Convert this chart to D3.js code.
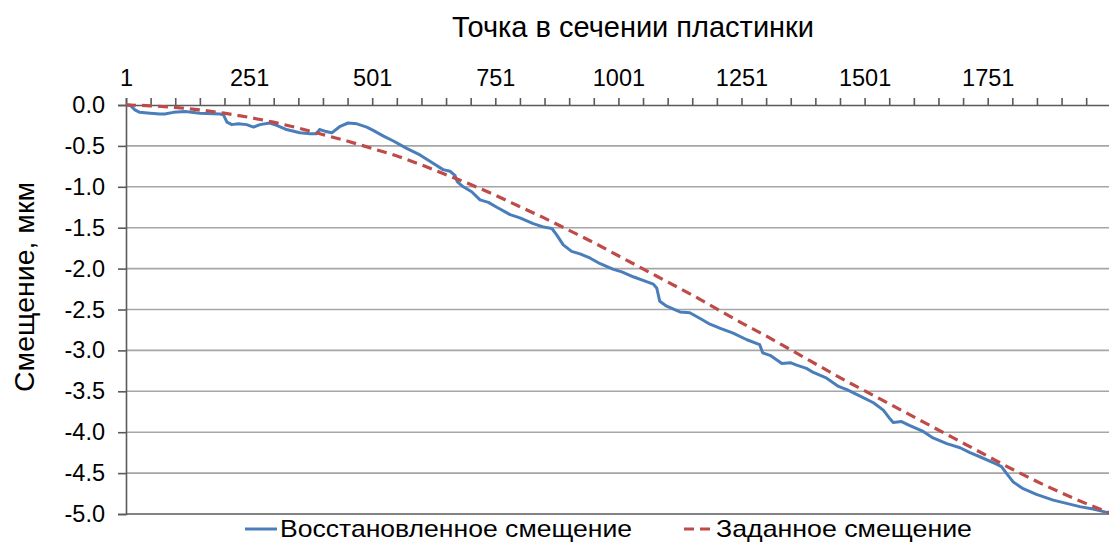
<!DOCTYPE html>
<html><head><meta charset="utf-8">
<script src="https://cdn.jsdelivr.net/npm/d3@7"></script>
<style>
html,body{margin:0;padding:0;background:#fff;}
svg{display:block;font-family:"Liberation Sans",Arial,sans-serif;}
</style></head>
<body>
<svg id="chart" width="1109" height="543"></svg>
<script>
// ---- data ----
const chartTitle = "Точка в сечении пластинки";
const yTitle = "Смещение, мкм";
const seriesNames = ["Восстановленное смещение", "Заданное смещение"];
const xTickLabels = [1, 251, 501, 751, 1001, 1251, 1501, 1751];
const yTicks = [0, -0.5, -1, -1.5, -2, -2.5, -3, -3.5, -4, -4.5, -5];

const restoredIdx = [1, 9, 19, 29, 50, 70, 80, 97, 121, 134, 151, 192, 199, 206, 216, 229, 246, 260, 273, 293, 307, 327, 354, 375, 388, 394, 405, 419, 436, 452, 470, 490, 503, 524, 544, 571, 598, 619, 645, 659, 669, 674, 686, 703, 720, 737, 754, 781, 801, 828, 848, 866, 876, 889, 906, 923, 943, 964, 991, 1008, 1031, 1058, 1072, 1079, 1085, 1099, 1126, 1146, 1167, 1187, 1208, 1234, 1262, 1288, 1294, 1309, 1333, 1350, 1363, 1383, 1397, 1424, 1448, 1465, 1492, 1519, 1539, 1553, 1559, 1576, 1593, 1620, 1640, 1668, 1695, 1715, 1735, 1769, 1779, 1790, 1803, 1823, 1850, 1884, 1911, 1938, 1965, 1993, 2000];
const restoredVal = [0, 0.00, -0.06, -0.09, -0.10, -0.11, -0.11, -0.09, -0.08, -0.09, -0.10, -0.11, -0.12, -0.21, -0.24, -0.23, -0.24, -0.27, -0.24, -0.22, -0.25, -0.30, -0.34, -0.35, -0.35, -0.30, -0.32, -0.34, -0.26, -0.22, -0.23, -0.27, -0.31, -0.38, -0.44, -0.53, -0.61, -0.69, -0.79, -0.81, -0.86, -0.94, -1.00, -1.06, -1.16, -1.19, -1.25, -1.34, -1.38, -1.45, -1.49, -1.51, -1.59, -1.71, -1.79, -1.82, -1.87, -1.94, -2.01, -2.04, -2.10, -2.16, -2.19, -2.24, -2.40, -2.46, -2.53, -2.54, -2.61, -2.68, -2.73, -2.79, -2.87, -2.93, -3.03, -3.06, -3.16, -3.15, -3.18, -3.22, -3.27, -3.34, -3.44, -3.48, -3.56, -3.64, -3.73, -3.84, -3.88, -3.87, -3.92, -3.99, -4.07, -4.14, -4.19, -4.25, -4.30, -4.39, -4.42, -4.51, -4.61, -4.69, -4.76, -4.83, -4.87, -4.91, -4.94, -4.98, -4.99];

const givenIdx = [1, 50, 100, 151, 200, 250, 300, 350, 400, 450, 500, 550, 600, 650, 700, 750, 800, 850, 900, 950, 1000, 1050, 1100, 1150, 1200, 1250, 1300, 1350, 1400, 1450, 1500, 1550, 1600, 1650, 1700, 1750, 1800, 1850, 1900, 1950, 2000];
const givenVal = [0, -0.01, -0.03, -0.06, -0.10, -0.15, -0.21, -0.28, -0.36, -0.44, -0.53, -0.62, -0.73, -0.85, -0.97, -1.10, -1.24, -1.38, -1.53, -1.68, -1.84, -2.00, -2.16, -2.32, -2.49, -2.66, -2.82, -2.99, -3.16, -3.33, -3.49, -3.65, -3.81, -3.97, -4.13, -4.29, -4.45, -4.60, -4.74, -4.87, -4.99];

// ---- drawing ----
const svg = d3.select("#chart");
const x = d3.scaleLinear().domain([1, 2000]).range([126, 126 + 1999 * 0.4924]);
const y = d3.scaleLinear().domain([0, -5]).range([105, 514]);
const axisColor = "#5a5a5a";

// gridlines
svg.append("g").selectAll("line").data(yTicks.filter(d => d !== 0 && d !== -5)).join("line")
  .attr("x1", 126).attr("x2", 1109).attr("y1", d => y(d)).attr("y2", d => y(d))
  .attr("stroke", "#a6a6a6").attr("stroke-width", 1.6);
// bottom border line
svg.append("line").attr("x1", 126).attr("x2", 1109).attr("y1", y(-5)).attr("y2", y(-5))
  .attr("stroke", "#5a5a5a").attr("stroke-width", 1.6);

// y axis
const yAxis = d3.axisLeft(y).tickValues(yTicks).tickFormat(d => d.toFixed(1)).tickSize(8).tickPadding(13);
const gy = svg.append("g").attr("transform", "translate(126,0)").call(yAxis);
gy.select(".domain").attr("stroke", axisColor).attr("stroke-width", 1.6);
gy.selectAll(".tick line").attr("stroke", axisColor).attr("stroke-width", 1.6);
gy.selectAll(".tick text").attr("font-size", 23.5).attr("fill", "#000")
  .attr("font-family", "'Liberation Sans',Arial,sans-serif");

// top x axis (ticks every 50 points, labels every 250)
const minorTicks = d3.range(1, 2001, 50);
const xAxis = d3.axisTop(x).tickValues(minorTicks).tickSize(7)
  .tickFormat(d => xTickLabels.includes(d) ? String(d) : "").tickPadding(12);
const gx = svg.append("g").attr("transform", "translate(0,105)").call(xAxis);
gx.select(".domain").attr("stroke", axisColor).attr("stroke-width", 1.6);
gx.selectAll(".tick line").attr("stroke", axisColor).attr("stroke-width", 1.6);
gx.selectAll(".tick text").attr("font-size", 23.5).attr("fill", "#000")
  .attr("font-family", "'Liberation Sans',Arial,sans-serif");

// series
const restored = restoredIdx.map((d, i) => [d, restoredVal[i]]);
const given = givenIdx.map((d, i) => [d, givenVal[i]]);
const lineR = d3.line().x(d => x(d[0])).y(d => y(d[1]));
const lineG = d3.line().x(d => x(d[0])).y(d => y(d[1])).curve(d3.curveMonotoneX);

svg.append("clipPath").attr("id", "clip").append("rect")
  .attr("x", 120).attr("y", 95).attr("width", 990).attr("height", 430);
const plot = svg.append("g").attr("clip-path", "url(#clip)");
plot.append("path").datum(restored).attr("d", lineR)
  .attr("fill", "none").attr("stroke", "#4A7EBB").attr("stroke-width", 3)
  .attr("stroke-linejoin", "round");
plot.append("path").datum(given).attr("d", lineG)
  .attr("fill", "none").attr("stroke", "#BE4B48").attr("stroke-width", 3.2)
  .attr("stroke-dasharray", "10,6");

// titles
svg.append("text").attr("x", 633).attr("y", 37).attr("text-anchor", "middle")
  .attr("font-size", 29).attr("fill", "#000").text(chartTitle);
svg.append("text").attr("transform", "translate(34,287) rotate(-90)").attr("text-anchor", "middle")
  .attr("font-size", 28.5).attr("fill", "#000").text(yTitle);

// legend
const lg = svg.append("g");
lg.append("line").attr("x1", 245).attr("x2", 277).attr("y1", 529).attr("y2", 529)
  .attr("stroke", "#4A7EBB").attr("stroke-width", 3);
lg.append("text").attr("x", 280).attr("y", 537).attr("font-size", 24)
  .attr("font-family", "'Liberation Sans Narrow','Arial Narrow','Liberation Sans',sans-serif")
  .attr("textLength", 352).attr("lengthAdjust", "spacingAndGlyphs").text(seriesNames[0]);
lg.append("line").attr("x1", 684).attr("x2", 714).attr("y1", 529).attr("y2", 529)
  .attr("stroke", "#BE4B48").attr("stroke-width", 3.2).attr("stroke-dasharray", "10,6");
lg.append("text").attr("x", 716).attr("y", 537).attr("font-size", 24)
  .attr("font-family", "'Liberation Sans Narrow','Arial Narrow','Liberation Sans',sans-serif")
  .attr("textLength", 256).attr("lengthAdjust", "spacingAndGlyphs").text(seriesNames[1]);
</script>
</body></html>
